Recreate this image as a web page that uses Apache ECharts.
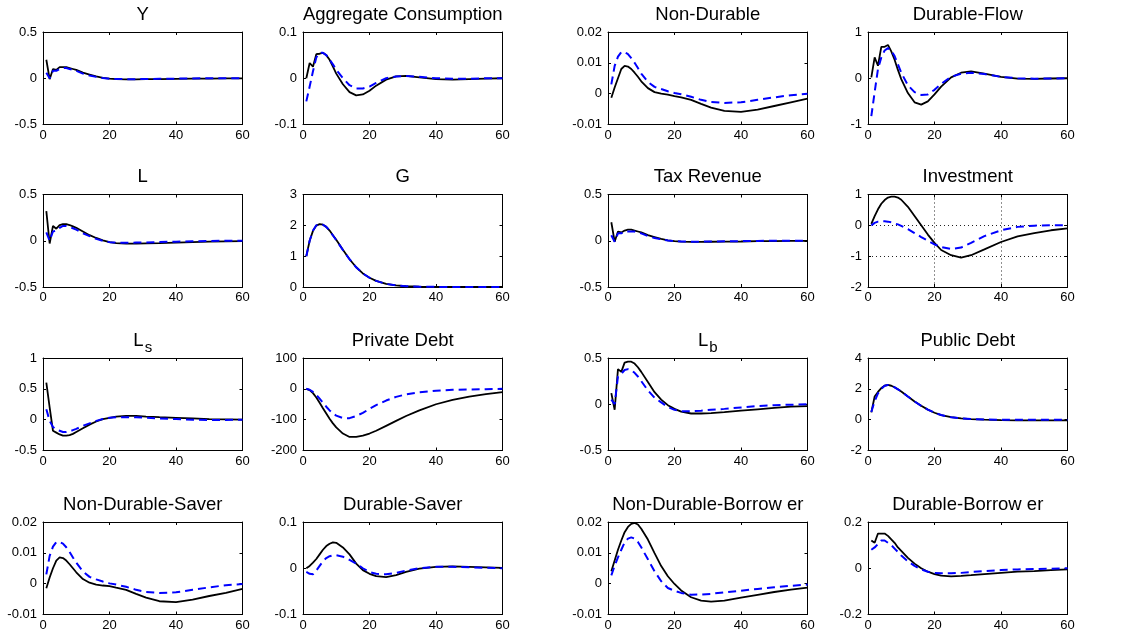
<!DOCTYPE html>
<html>
<head>
<meta charset="utf-8">
<script src="https://cdn.jsdelivr.net/npm/echarts@6/dist/echarts.min.js"></script>
<style>
html, body { margin: 0; padding: 0; background: #fff; }
#chart { width: 1131px; height: 636px; }
</style>
</head>
<body>
<div id="chart"></div>
<script>
const periods = [1, 2, 3, 4, 5, 6, 7, 8, 9, 10, 12, 14, 16, 18, 20, 22, 25, 28, 31, 35, 40, 45, 50, 55, 60];

const panelTitles = ['Y', 'Aggregate Consumption', 'Non-Durable', 'Durable-Flow',
                     'L', 'G', 'Tax Revenue', 'Investment',
                     'L_s', 'Private Debt', 'L_b', 'Public Debt',
                     'Non-Durable-Saver', 'Durable-Saver', 'Non-Durable-Borrow er', 'Durable-Borrow er'];
const yMin  = [-0.5, -0.1, -0.01, -1, -0.5, 0, -0.5, -2, -0.5, -200, -0.5, -2, -0.01, -0.1, -0.01, -0.2];
const yMax  = [0.5, 0.1, 0.02, 1, 0.5, 3, 0.5, 1, 1, 100, 0.5, 4, 0.02, 0.1, 0.02, 0.2];
const yStep = [0.5, 0.1, 0.01, 1, 0.5, 1, 0.5, 1, 0.5, 100, 0.5, 2, 0.01, 0.1, 0.01, 0.2];
const xTicks = [0, 60, 20];

// black solid = first model, blue dashed = second model
const outputSolid  = [0.20, -0.01, 0.10, 0.09, 0.12, 0.12, 0.12, 0.11, 0.10, 0.09, 0.06, 0.04, 0.02, 0.005, -0.005, -0.01, -0.012, -0.012, -0.01, -0.01, -0.007, -0.005, -0.003, -0.002, -0.001];
const outputDashed = [0.06, 0.00, 0.08, 0.08, 0.10, 0.11, 0.11, 0.10, 0.09, 0.08, 0.05, 0.03, 0.015, 0.003, -0.005, -0.008, -0.01, -0.01, -0.008, -0.006, -0.004, -0.002, 0, 0.001, 0.001];

const consSolid  = [0, 0.033, 0.025, 0.052, 0.053, 0.055, 0.05, 0.04, 0.025, 0.01, -0.013, -0.03, -0.037, -0.035, -0.027, -0.016, -0.003, 0.004, 0.005, 0.002, -0.002, -0.003, -0.002, -0.001, 0];
const consDashed = [-0.05, -0.018, 0.015, 0.045, 0.055, 0.055, 0.05, 0.04, 0.03, 0.018, 0, -0.015, -0.022, -0.022, -0.018, -0.01, 0, 0.004, 0.005, 0.003, 0, -0.001, -0.001, 0, 0];

const nonDurSolid  = [-0.0013, 0.002, 0.005, 0.008, 0.009, 0.0088, 0.008, 0.0068, 0.0055, 0.004, 0.0018, 0.0005, 0, -0.0003, -0.0008, -0.0012, -0.002, -0.0033, -0.0045, -0.0056, -0.0059, -0.0052, -0.004, -0.0028, -0.0016];
const nonDurDashed = [0.003, 0.009, 0.012, 0.0135, 0.0135, 0.0128, 0.0115, 0.01, 0.0083, 0.0065, 0.0038, 0.0022, 0.0015, 0.0008, 0.0002, -0.0002, -0.001, -0.002, -0.0027, -0.003, -0.0028, -0.002, -0.0012, -0.0005, 0];

const durFlowSolid  = [0.02, 0.45, 0.27, 0.68, 0.68, 0.72, 0.58, 0.4, 0.18, -0.02, -0.32, -0.52, -0.57, -0.5, -0.35, -0.18, 0.02, 0.12, 0.15, 0.1, 0.03, -0.01, -0.015, -0.005, 0];
const durFlowDashed = [-0.82, -0.3, 0.2, 0.45, 0.6, 0.65, 0.6, 0.48, 0.3, 0.12, -0.15, -0.3, -0.36, -0.35, -0.25, -0.12, 0.03, 0.1, 0.12, 0.09, 0.03, 0, -0.01, -0.005, 0];

const laborSolid  = [0.32, -0.03, 0.16, 0.13, 0.17, 0.18, 0.18, 0.17, 0.155, 0.14, 0.1, 0.06, 0.03, 0.005, -0.015, -0.025, -0.03, -0.03, -0.028, -0.025, -0.02, -0.015, -0.01, -0.006, -0.003];
const laborDashed = [0.09, 0.0, 0.1, 0.11, 0.14, 0.16, 0.16, 0.15, 0.135, 0.12, 0.08, 0.05, 0.02, 0, -0.015, -0.02, -0.022, -0.02, -0.018, -0.014, -0.01, -0.006, -0.003, 0, 0];

const govSolid  = [1.0, 1.5, 1.82, 1.99, 2.04, 2.02, 1.95, 1.83, 1.68, 1.53, 1.21, 0.9, 0.64, 0.44, 0.3, 0.2, 0.1, 0.05, 0.025, 0.01, 0.004, 0, 0, 0, 0];
const govDashed = [1.0, 1.5, 1.83, 2.0, 2.04, 2.02, 1.95, 1.83, 1.67, 1.52, 1.2, 0.9, 0.64, 0.44, 0.3, 0.2, 0.1, 0.05, 0.025, 0.01, 0.004, 0, 0, 0, 0];

const taxSolid  = [0.2, -0.01, 0.1, 0.09, 0.11, 0.12, 0.12, 0.11, 0.1, 0.09, 0.06, 0.04, 0.02, 0.005, -0.005, -0.01, -0.012, -0.012, -0.011, -0.01, -0.008, -0.005, -0.003, -0.002, -0.001];
const taxDashed = [0.06, -0.01, 0.08, 0.08, 0.1, 0.1, 0.1, 0.1, 0.09, 0.08, 0.05, 0.03, 0.015, 0.003, -0.005, -0.008, -0.01, -0.01, -0.008, -0.006, -0.004, -0.002, 0, 0.001, 0.001];

const investSolid  = [0.05, 0.3, 0.52, 0.7, 0.82, 0.9, 0.93, 0.93, 0.9, 0.83, 0.6, 0.3, 0, -0.3, -0.57, -0.8, -0.97, -1.05, -0.97, -0.78, -0.54, -0.36, -0.25, -0.16, -0.1];
const investDashed = [0, 0.08, 0.12, 0.13, 0.13, 0.12, 0.1, 0.06, 0.03, -0.02, -0.12, -0.25, -0.38, -0.5, -0.62, -0.7, -0.77, -0.72, -0.57, -0.35, -0.16, -0.05, -0.01, 0, 0];

const laborSaverSolid  = [0.6, 0.2, -0.18, -0.21, -0.24, -0.26, -0.26, -0.25, -0.23, -0.2, -0.14, -0.08, -0.03, 0.01, 0.03, 0.05, 0.06, 0.06, 0.05, 0.04, 0.03, 0.02, 0.01, 0.005, 0];
const laborSaverDashed = [0.17, -0.02, -0.12, -0.16, -0.18, -0.2, -0.2, -0.19, -0.17, -0.15, -0.1, -0.06, -0.02, 0.01, 0.03, 0.04, 0.04, 0.04, 0.03, 0.02, 0.01, 0, -0.005, -0.005, 0];

const privDebtSolid  = [0, -4, -14, -28, -45, -63, -80, -97, -112, -125, -145, -156, -156, -152, -145, -136, -120, -104, -88, -70, -50, -36, -25, -17, -11];
const privDebtDashed = [0, -3, -10, -20, -32, -45, -58, -70, -80, -87, -95, -95, -88, -78, -65, -53, -38, -26, -18, -11, -6, -3, -2, -1, 0];

const laborBorrSolid  = [0.12, -0.06, 0.38, 0.35, 0.45, 0.46, 0.46, 0.44, 0.4, 0.35, 0.24, 0.13, 0.05, -0.01, -0.05, -0.08, -0.1, -0.1, -0.095, -0.085, -0.07, -0.055, -0.04, -0.025, -0.02];
const laborBorrDashed = [0.05, 0.0, 0.3, 0.33, 0.37, 0.38, 0.37, 0.34, 0.3, 0.25, 0.15, 0.07, 0.02, -0.03, -0.06, -0.075, -0.075, -0.07, -0.06, -0.05, -0.035, -0.02, -0.01, -0.005, 0];

const pubDebtSolid  = [0.47, 1.5, 1.8, 2.05, 2.2, 2.25, 2.2, 2.1, 1.97, 1.83, 1.5, 1.18, 0.9, 0.65, 0.45, 0.3, 0.16, 0.08, 0.03, 0, -0.03, -0.04, -0.04, -0.04, -0.04];
const pubDebtDashed = [0.5, 1.2, 1.7, 2.0, 2.2, 2.25, 2.2, 2.1, 1.97, 1.83, 1.5, 1.18, 0.9, 0.65, 0.45, 0.3, 0.16, 0.08, 0.04, 0.01, 0, 0, 0, 0, 0];

const ndSaverSolid  = [-0.0015, 0.002, 0.005, 0.0075, 0.0085, 0.0083, 0.0075, 0.0063, 0.005, 0.0037, 0.0015, 0.0003, -0.0003, -0.0006, -0.0008, -0.0013, -0.002, -0.0033, -0.0045, -0.0057, -0.006, -0.0052, -0.004, -0.003, -0.0017];
const ndSaverDashed = [0.003, 0.009, 0.012, 0.0135, 0.0135, 0.013, 0.0118, 0.0103, 0.0085, 0.0068, 0.004, 0.0022, 0.0014, 0.0007, 0.0001, -0.0003, -0.001, -0.002, -0.0027, -0.003, -0.0028, -0.002, -0.0012, -0.0005, -0.0001];

const dSaverSolid  = [0, 0.005, 0.012, 0.02, 0.03, 0.04, 0.048, 0.053, 0.056, 0.055, 0.045, 0.03, 0.01, -0.004, -0.012, -0.017, -0.019, -0.015, -0.008, -0.001, 0.003, 0.004, 0.003, 0.002, 0.001];
const dSaverDashed = [-0.008, -0.012, -0.013, -0.005, 0.005, 0.015, 0.022, 0.026, 0.028, 0.028, 0.025, 0.018, 0.01, 0, -0.008, -0.012, -0.013, -0.01, -0.005, 0, 0.003, 0.003, 0.002, 0.001, 0];

const ndBorrSolid  = [0.004, 0.0075, 0.011, 0.014, 0.0167, 0.0184, 0.0194, 0.0197, 0.0192, 0.0178, 0.0143, 0.0099, 0.0057, 0.0024, -0.0001, -0.0022, -0.0044, -0.0055, -0.0058, -0.0055, -0.0045, -0.0036, -0.0027, -0.0019, -0.0013];
const ndBorrDashed = [0.0027, 0.0058, 0.0085, 0.011, 0.0134, 0.0146, 0.015, 0.0146, 0.0135, 0.0118, 0.0079, 0.004, 0.0008, -0.0014, -0.0023, -0.003, -0.0036, -0.0035, -0.0033, -0.0028, -0.0023, -0.0017, -0.0012, -0.0007, -0.0003];

const dBorrSolid  = [0.12, 0.11, 0.15, 0.15, 0.15, 0.14, 0.125, 0.11, 0.09, 0.075, 0.045, 0.02, 0, -0.015, -0.025, -0.032, -0.035, -0.033, -0.03, -0.025, -0.02, -0.015, -0.012, -0.008, -0.005];
const dBorrDashed = [0.08, 0.09, 0.105, 0.12, 0.12, 0.11, 0.1, 0.085, 0.07, 0.055, 0.03, 0.01, -0.005, -0.015, -0.02, -0.022, -0.022, -0.02, -0.016, -0.012, -0.008, -0.005, -0.003, -0.002, 0];

const panels = [
    [outputSolid, outputDashed], [consSolid, consDashed], [nonDurSolid, nonDurDashed], [durFlowSolid, durFlowDashed],
    [laborSolid, laborDashed], [govSolid, govDashed], [taxSolid, taxDashed], [investSolid, investDashed],
    [laborSaverSolid, laborSaverDashed], [privDebtSolid, privDebtDashed], [laborBorrSolid, laborBorrDashed], [pubDebtSolid, pubDebtDashed],
    [ndSaverSolid, ndSaverDashed], [dSaverSolid, dSaverDashed], [ndBorrSolid, ndBorrDashed], [dBorrSolid, dBorrDashed]
];

// subplot layout (pixels)
const colLeft = [43, 303, 608, 868];
const rowTop = [32, 194.5, 358, 522];
const boxW = 199.5;
const boxH = 92.5;
const FONT = '"Liberation Sans", Arial, Helvetica, sans-serif';
const withGrid = [7];   // Investment has its grid switched on

const pairs = ys => periods.map((p, i) => [p, ys[i]]);

const titleText = t => {
    if (t.indexOf('_') < 0) return t;
    const parts = t.split('_');
    return '{m|' + parts[0] + '}{s|' + parts[1] + '}';
};

let grids = [], xAxes = [], yAxes = [], series = [], titles = [];

panels.forEach((pair, i) => {
    const r = Math.floor(i / 4), c = i % 4;
    grids.push({ left: colLeft[c], top: rowTop[r], width: boxW, height: boxH, containLabel: false });

    const gridOn = withGrid.indexOf(i) >= 0;
    const dotted = { show: gridOn, lineStyle: { color: '#222', type: [1, 3], width: 1 } };
    const tick = { show: true, inside: true, length: 3, lineStyle: { color: '#000' } };
    const line = { show: true, onZero: false, lineStyle: { color: '#000', width: 1 } };

    xAxes.push({
        type: 'value', gridIndex: i, min: xTicks[0], max: xTicks[1], interval: xTicks[2],
        axisLine: line, axisTick: tick, splitLine: dotted,
        axisLabel: { color: '#000', fontFamily: FONT, fontSize: 13, margin: 4 }
    });
    yAxes.push({
        type: 'value', gridIndex: i, min: yMin[i], max: yMax[i], interval: yStep[i],
        axisLine: line, axisTick: tick, splitLine: dotted,
        axisLabel: { color: '#000', fontFamily: FONT, fontSize: 13, margin: 6 }
    });

    series.push({
        type: 'line', xAxisIndex: i, yAxisIndex: i, data: pairs(pair[0]),
        showSymbol: false, silent: true, z: 3,
        lineStyle: { color: '#000', width: 1.8 }
    });
    series.push({
        type: 'line', xAxisIndex: i, yAxisIndex: i, data: pairs(pair[1]),
        showSymbol: false, silent: true, z: 4,
        lineStyle: { color: '#0000ff', width: 2, type: [8, 5] }
    });

    // subscripted titles get a taller line box, so lift them a little
    const lift = panelTitles[i].indexOf('_') >= 0 ? 5 : 0;
    titles.push({
        text: titleText(panelTitles[i]),
        left: colLeft[c] + boxW / 2, top: rowTop[r] - 27 - lift, textAlign: 'center', padding: 0,
        textStyle: {
            color: '#000', fontFamily: FONT, fontSize: 18.5, fontWeight: 'normal',
            rich: {
                m: { fontFamily: FONT, fontSize: 18.5, color: '#000' },
                s: { fontFamily: FONT, fontSize: 15, color: '#000', padding: [14, 0, 0, 1] }
            }
        }
    });
});

// mirrored axes so every box also has ticks on top and right
panels.forEach((pair, i) => {
    const tick = { show: true, inside: true, length: 3, lineStyle: { color: '#000' } };
    const line = { show: true, onZero: false, lineStyle: { color: '#000', width: 1 } };
    xAxes.push({
        type: 'value', gridIndex: i, position: 'top', min: xTicks[0], max: xTicks[1], interval: xTicks[2],
        axisLine: line, axisTick: tick, axisLabel: { show: false }, splitLine: { show: false }
    });
    yAxes.push({
        type: 'value', gridIndex: i, position: 'right', min: yMin[i], max: yMax[i], interval: yStep[i],
        axisLine: line, axisTick: tick, axisLabel: { show: false }, splitLine: { show: false }
    });
});

const chart = echarts.init(document.getElementById('chart'), null, { renderer: 'canvas' });
chart.setOption({
    backgroundColor: '#fff',
    animation: false,
    title: titles,
    grid: grids,
    xAxis: xAxes,
    yAxis: yAxes,
    series: series
});
</script>
</body>
</html>
